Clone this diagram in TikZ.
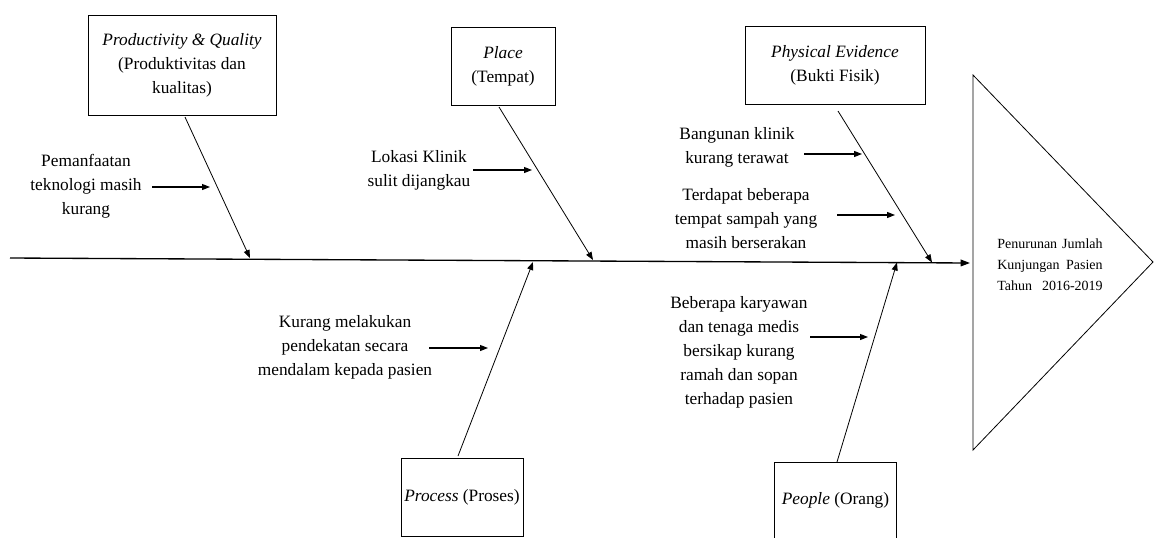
\documentclass[tikz,border=0pt]{standalone}
\usepackage{fontspec}
\setmainfont{Liberation Serif}
\usetikzlibrary{arrows.meta}
\begin{document}
\begin{tikzpicture}[x=0.75pt,y=-0.75pt,
  lbl/.style={align=center,font=\fontsize{13}{18}\selectfont,inner sep=0pt},
  catbox/.style={draw,line width=0.7pt,align=center,font=\fontsize{13}{18}\selectfont,inner sep=0pt},
  bone/.style={line width=0.6pt,-{Triangle[length=6pt,width=4.5pt]}},
  cause/.style={line width=0.8pt,-{Triangle[length=6pt,width=4.5pt]}},
  spine/.style={line width=1pt,-{Triangle[length=7pt,width=5pt]}}]
\useasboundingbox (0,0) rectangle (1158,537);
% head
\draw[line width=0.6pt] (973,75) -- (1153,262) -- (973,450) -- cycle;
\node[inner sep=0pt,align=center,font=\fontsize{10.5}{15.75}\selectfont] (head) at (1050,265)
  {\makebox[79pt][s]{Penurunan Jumlah}\\ \makebox[79pt][s]{Kunjungan Pasien}\\ \makebox[79pt][s]{Tahun 2016-2019}};
% spine
\coordinate (spineL) at (10,258);
\coordinate (spineR) at (970,263);
\draw[spine] (spineL) -- (spineR);
% category boxes
\node[catbox,minimum width=141pt,minimum height=75pt] (pq) at (182,65)
  {\textit{Productivity \& Quality}\\(Produktivitas dan\\kualitas)};
\node[catbox,minimum width=78pt,minimum height=58pt] (place) at (503,66.5)
  {\textit{Place}\\(Tempat)};
\node[catbox,minimum width=135pt,minimum height=58.5pt] (pe) at (835,65)
  {\textit{Physical Evidence}\\(Bukti Fisik)};
\node[catbox,minimum width=91.5pt,minimum height=59pt] (proc) at (462,497.5)
  {\textit{Process} (Proses)};
\node[catbox,minimum width=92pt,minimum height=57pt] (ppl) at (835.5,500)
  {\textit{People} (Orang)};
% bones
\coordinate (pqS) at (185,117);  \coordinate (pqE) at (250,258);
\coordinate (plS) at (499,107);  \coordinate (plE) at (593,260);
\coordinate (peS) at (838,111);  \coordinate (peE) at (932,262.5);
\coordinate (prS) at (458,456);  \coordinate (prE) at (533,262);
\coordinate (ppS) at (837,462);  \coordinate (ppE) at (897,262.5);
\draw[bone] (pqS) -- (pqE);
\draw[bone] (plS) -- (plE);
\draw[bone] (peS) -- (peE);
\draw[bone] (prS) -- (prE);
\draw[bone] (ppS) -- (ppE);
% causes
\node[lbl] (c1) at (86,186) {Pemanfaatan\\teknologi masih\\kurang};
\node[lbl] (c2) at (419,170) {Lokasi Klinik\\sulit dijangkau};
\node[lbl] (c3) at (737,147.5) {Bangunan klinik\\kurang terawat};
\node[lbl] (c4) at (746,218.5) {Terdapat beberapa\\tempat sampah yang\\masih berserakan};
\node[lbl] (c5) at (345,347) {Kurang melakukan\\pendekatan secara\\mendalam kepada pasien};
\node[lbl] (c6) at (739,352) {Beberapa karyawan\\dan tenaga medis\\bersikap kurang\\ramah dan sopan\\terhadap pasien};
\coordinate (a1S) at (152,187); \coordinate (a1E) at (210,187);
\coordinate (a2S) at (473,170); \coordinate (a2E) at (532,170);
\coordinate (a3S) at (804,154); \coordinate (a3E) at (862,154);
\coordinate (a4S) at (837,215); \coordinate (a4E) at (895,215);
\coordinate (a5S) at (429,348); \coordinate (a5E) at (488,348);
\coordinate (a6S) at (810,337); \coordinate (a6E) at (868,337);
\draw[cause] (a1S) -- (a1E);
\draw[cause] (a2S) -- (a2E);
\draw[cause] (a3S) -- (a3E);
\draw[cause] (a4S) -- (a4E);
\draw[cause] (a5S) -- (a5E);
\draw[cause] (a6S) -- (a6E);
\end{tikzpicture}
\end{document}
